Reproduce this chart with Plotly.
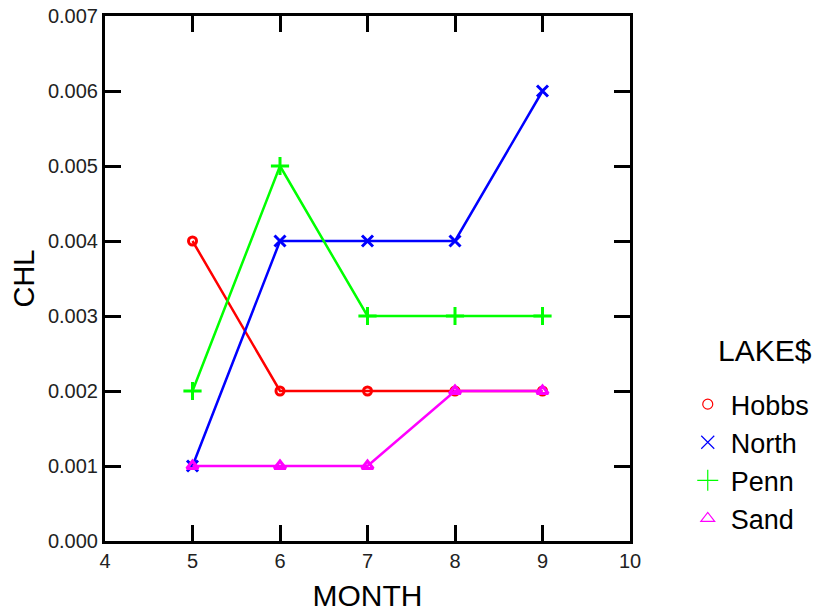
import plotly.graph_objects as go

# Monthly chlorophyll readings per lake
months = [5, 6, 7, 8, 9]
hobbs = [0.004, 0.002, 0.002, 0.002, 0.002]
north = [0.001, 0.004, 0.004, 0.004, 0.006]
penn = [0.002, 0.005, 0.003, 0.003, 0.003]
sand = [0.001, 0.001, 0.001, 0.002, 0.002]

lake_names = ["Hobbs", "North", "Penn", "Sand"]
lake_values = [hobbs, north, penn, sand]
lake_colors = ["#ff0000", "#0000ff", "#00ff00", "#ff00ff"]
lake_symbols = ["circle-open", "x-thin-open", "cross-thin-open", "triangle-up-open"]
lake_sizes = [8, 11, 13, 10]

x_ticks = [4, 5, 6, 7, 8, 9, 10]
y_ticks = [0.000, 0.001, 0.002, 0.003, 0.004, 0.005, 0.006, 0.007]

FONT = "Liberation Sans, Arial, sans-serif"

fig = go.Figure()

for name, vals, col, sym, sz in zip(lake_names, lake_values, lake_colors, lake_symbols, lake_sizes):
    fig.add_trace(go.Scatter(
        x=months, y=vals, mode="lines+markers", showlegend=False,
        line=dict(color=col, width=2.5),
        marker=dict(symbol=sym, size=sz, color=col, line=dict(color=col, width=3)),
    ))

# legend-only entries: markers without the connecting line
for name, col, sym, sz in zip(lake_names, lake_colors, lake_symbols, lake_sizes):
    fig.add_trace(go.Scatter(
        x=[None], y=[None], mode="markers", name=name,
        marker=dict(symbol=sym, size=sz + 2, color=col, line=dict(color=col, width=1.2)),
    ))

axis_common = dict(
    showline=True, linecolor="black", linewidth=3, mirror="ticks",
    ticks="inside", ticklen=16, tickwidth=3, tickcolor="black",
    showgrid=False, zeroline=False, automargin=False,
    tickfont=dict(family=FONT, size=20, color="#222"),
)

fig.update_xaxes(
    range=[4, 10], tickvals=x_ticks, ticktext=[str(v) for v in x_ticks],
    title=dict(text="MONTH", font=dict(family=FONT, size=30, color="black"), standoff=14),
    **axis_common,
)
fig.update_yaxes(
    range=[0, 0.007], tickvals=y_ticks, ticktext=[f"{v:.3f}" for v in y_ticks],
    title=dict(text="CHL", font=dict(family=FONT, size=29, color="black"), standoff=5),
    **axis_common,
)

fig.add_annotation(
    text="LAKE$", xref="paper", yref="paper", x=1.257, y=0.363,
    showarrow=False, xanchor="center", yanchor="middle",
    font=dict(family=FONT, size=30, color="black"),
)

fig.update_layout(
    width=825, height=613,
    margin=dict(l=105, r=195, t=16, b=72),
    paper_bgcolor="white", plot_bgcolor="white",
    showlegend=True,
    legend=dict(
        xref="container", yref="container",
        x=0.83, y=0.247, xanchor="left", yanchor="middle",
        font=dict(family=FONT, size=27, color="black"),
        itemwidth=36,
        bgcolor="rgba(0,0,0,0)",
    ),
)

fig.write_html("out.html")
